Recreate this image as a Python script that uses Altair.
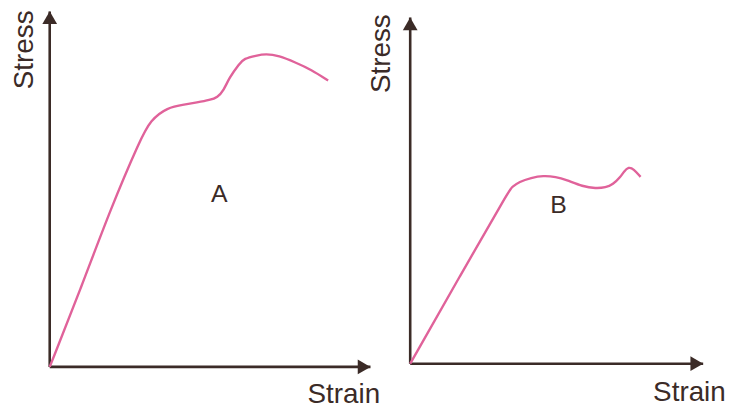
import altair as alt
import pandas as pd

# Curve A (strain, stress) in arbitrary units
a_strain = [0.0, 0.98, 1.9, 2.83, 3.14, 3.66, 4.22, 4.58, 5.0, 5.23, 5.42, 5.6, 5.91, 6.06, 6.43, 6.74, 7.14, 7.66, 8.15, 8.68]
a_stress = [0.0, 2.45, 4.9, 7.05, 7.63, 8.03, 8.12, 8.18, 8.26, 8.34, 8.55, 8.95, 9.38, 9.54, 9.63, 9.69, 9.63, 9.42, 9.2, 8.86]

# Curve B
b_strain = [0.0, 1.54, 3.08, 3.14, 3.38, 3.75, 4.12, 4.52, 4.83, 5.35, 5.75, 6.06, 6.28, 6.52, 6.62, 6.77, 6.92, 7.14]
b_stress = [0.0, 2.71, 5.38, 5.45, 5.63, 5.75, 5.82, 5.78, 5.69, 5.48, 5.42, 5.45, 5.54, 5.78, 5.94, 6.09, 6.03, 5.78]

# Axis extents
a_xmax, a_ymax = 10.0, 11.0
b_xmax, b_ymax = 9.08, 10.71

AXIS = "#3b2b27"
CURVE = "#e0629a"
TEXT = "#3b2b27"
FONT = "Liberation Sans"


def panel(strain, stress, xmax, ymax, letter, letter_pos, ydom, width, ylab_pos, xlab_pos):
    xs = alt.Scale(domain=[0, xmax], nice=False, zero=False)
    ys = alt.Scale(domain=ydom, nice=False, zero=False)
    X = lambda f: alt.X(f, type="quantitative", scale=xs, axis=None)
    Y = lambda f: alt.Y(f, type="quantitative", scale=ys, axis=None)

    curve = alt.Chart(pd.DataFrame({"strain": strain, "stress": stress})).mark_line(
        color=CURVE, strokeWidth=2.4, interpolate="basis"
    ).encode(x=X("strain"), y=Y("stress"))

    axes = pd.DataFrame({"x1": [0, 0], "y1": [0, 0], "x2": [0, xmax], "y2": [ymax, 0]})
    rules = alt.Chart(axes).mark_rule(color=AXIS, strokeWidth=2.6).encode(
        x=X("x1"), y=Y("y1"), x2="x2", y2="y2"
    )
    up = alt.Chart(pd.DataFrame({"x": [0], "y": [ymax]})).mark_point(
        shape="triangle-up", filled=True, size=220, color=AXIS, opacity=1, yOffset=6.4
    ).encode(x=X("x"), y=Y("y"))
    right = alt.Chart(pd.DataFrame({"x": [xmax], "y": [0]})).mark_point(
        shape="triangle-right", filled=True, size=220, color=AXIS, opacity=1, xOffset=-6.4
    ).encode(x=X("x"), y=Y("y"))

    ylab = alt.Chart(pd.DataFrame({"x": [ylab_pos[0]], "y": [ylab_pos[1]], "t": ["Stress"]})).mark_text(
        angle=270, fontSize=28, font=FONT, color=TEXT, align="right", baseline="middle"
    ).encode(x=X("x"), y=Y("y"), text="t:N")
    xlab = alt.Chart(pd.DataFrame({"x": [xlab_pos[0]], "y": [xlab_pos[1]], "t": ["Strain"]})).mark_text(
        fontSize=28, font=FONT, color=TEXT, align="right", baseline="alphabetic"
    ).encode(x=X("x"), y=Y("y"), text="t:N")
    lab = alt.Chart(pd.DataFrame({"x": [letter_pos[0]], "y": [letter_pos[1]], "t": [letter]})).mark_text(
        fontSize=25, font=FONT, color=TEXT, align="center", baseline="middle"
    ).encode(x=X("x"), y=Y("y"), text="t:N")

    return alt.layer(rules, curve, up, right, ylab, xlab, lab).properties(width=width, height=358)


left = panel(a_strain, a_stress, a_xmax, a_ymax, "A", (5.29, 5.35), [0, 11.0], 323, (-0.78, 11.03), (10.3, -1.11))
right = panel(b_strain, b_stress, b_xmax, b_ymax, "B", (4.6, 4.9), [-0.1, 10.9], 295, (-0.87, 10.81), (9.78, -1.17))

chart = alt.hconcat(left, right, spacing=40, bounds="flush").properties(
    padding={"top": 0, "left": 2, "right": 0, "bottom": 0},
    background="white",
).configure_view(stroke="transparent", strokeWidth=0)

chart.save("out.html", embed_options={"renderer": "svg", "actions": False})
